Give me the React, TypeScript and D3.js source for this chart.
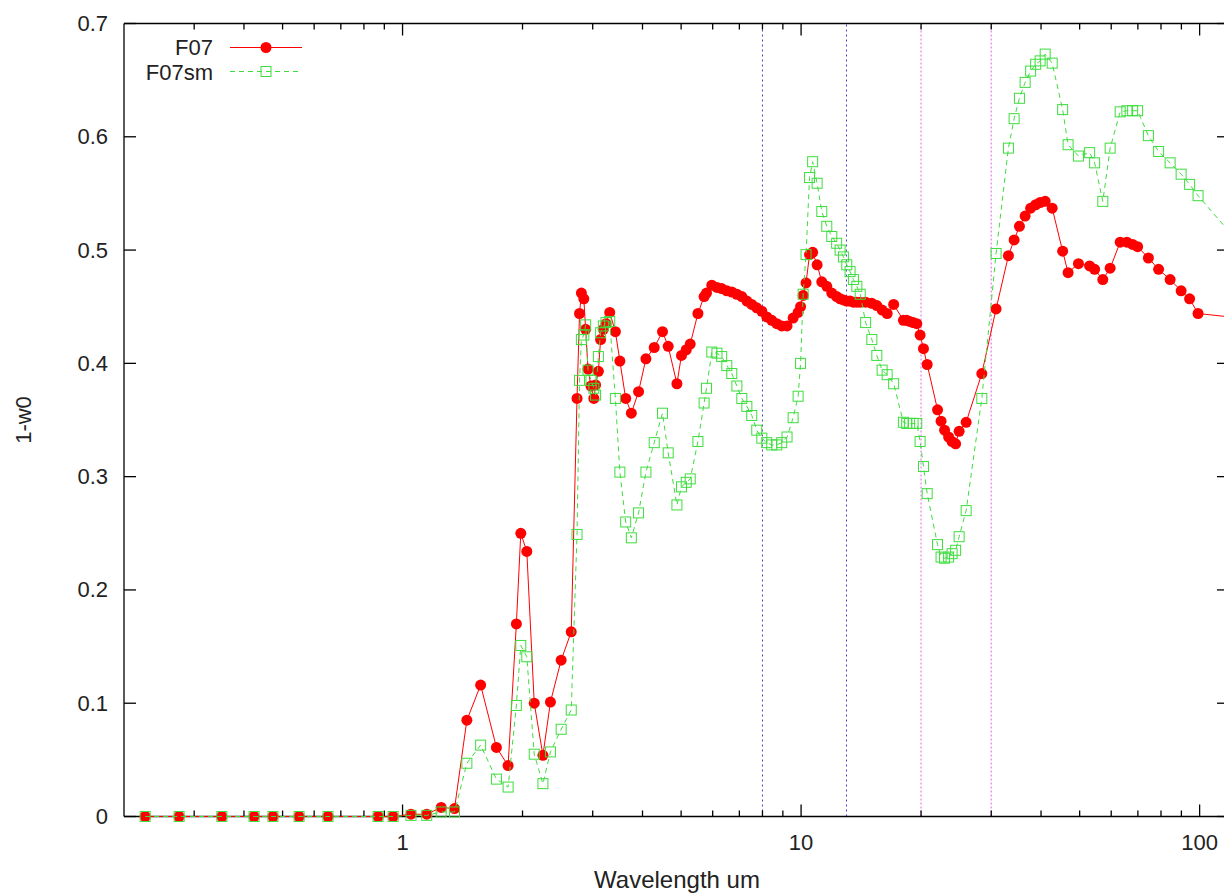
import React from "react";
import * as d3 from "d3";

// Wavelength grid (um), shared by both series
const wavelength = [
  0.226, 0.275, 0.352, 0.424, 0.473, 0.55, 0.65, 0.868, 0.947, 1.05, 1.15, 1.25, 1.35,
  1.45, 1.57, 1.72, 1.84, 1.93, 1.98, 2.05, 2.14, 2.25, 2.35, 2.5, 2.65, 2.74,
  2.78, 2.81, 2.85, 2.88, 2.92, 2.97, 3.02, 3.05, 3.1, 3.14, 3.19, 3.24, 3.31,
  3.42, 3.51, 3.63, 3.75, 3.91, 4.08, 4.28, 4.49, 4.64, 4.88, 5.01, 5.15, 5.27,
  5.51, 5.71, 5.79, 5.97, 6.15, 6.32, 6.51, 6.7, 6.9, 7.1, 7.31, 7.52, 7.74, 7.97,
  8.2, 8.44, 8.69, 8.94, 9.22, 9.55, 9.83, 9.97, 10.12, 10.29, 10.5, 10.69, 10.97,
  11.27, 11.6, 11.94, 12.28, 12.53, 12.77, 13.02, 13.27, 13.53, 13.8, 14.07, 14.52,
  15.05, 15.49, 15.97, 16.44, 17.07, 18.06, 18.4, 18.72, 19.1, 19.51, 19.89, 20.28,
  20.72, 22.0, 22.45, 22.91, 23.45, 23.93, 24.42, 24.92, 25.95, 28.41, 30.85, 33.13,
  34.24, 35.31, 36.49, 37.67, 38.78, 39.79, 40.97, 42.66, 45.32, 46.77, 49.65, 52.97,
  54.52, 57.16, 59.63, 63.19, 65.69, 67.91, 69.89, 74.38, 78.9, 84.33, 89.87, 94.38,
  99.1, 126.4,
];

// Series F07 (1 - w0)
const f07 = [
  0, 0, 0, 0, 0, 0, 0, 0, 0, 0.002, 0.002, 0.008, 0.007,
  0.085, 0.116, 0.061, 0.045, 0.17, 0.25, 0.234, 0.1, 0.054, 0.101, 0.138, 0.163, 0.369,
  0.444, 0.462, 0.457, 0.43, 0.395, 0.38, 0.369, 0.381, 0.393, 0.421, 0.43, 0.435, 0.445,
  0.428, 0.402, 0.369, 0.356, 0.375, 0.404, 0.414, 0.428, 0.415, 0.382, 0.407, 0.412, 0.417,
  0.444, 0.459, 0.462, 0.469, 0.467, 0.466, 0.464, 0.463, 0.461, 0.459, 0.455, 0.452, 0.449, 0.446,
  0.441, 0.438, 0.435, 0.433, 0.433, 0.44, 0.445, 0.45, 0.46, 0.471, 0.496, 0.498, 0.487,
  0.472, 0.468, 0.462, 0.459, 0.457, 0.456, 0.455, 0.455, 0.454, 0.454, 0.454, 0.454,
  0.453, 0.451, 0.447, 0.444, 0.452, 0.438, 0.438, 0.437, 0.436, 0.435, 0.425, 0.413,
  0.399, 0.359, 0.349, 0.341, 0.335, 0.331, 0.329, 0.34, 0.348, 0.391, 0.448, 0.495,
  0.509, 0.521, 0.53, 0.537, 0.54, 0.542, 0.543, 0.537, 0.499, 0.48, 0.488, 0.486,
  0.483, 0.474, 0.484, 0.507, 0.507, 0.505, 0.503, 0.493, 0.483, 0.474, 0.464, 0.457,
  0.444, 0.44,
];

// Series F07sm (1 - w0)
const f07sm = [
  0, 0, 0, 0, 0, 0, 0, 0, 0, 0.001, 0.001, 0.004, 0.004,
  0.047, 0.063, 0.033, 0.026, 0.098, 0.151, 0.141, 0.055, 0.029, 0.057, 0.077, 0.094, 0.249,
  0.385, 0.421, 0.425, 0.434, 0.394, 0.385, 0.378, 0.372, 0.406, 0.427, 0.433, 0.436, 0.437,
  0.369, 0.304, 0.26, 0.246, 0.268, 0.304, 0.33, 0.356, 0.321, 0.275, 0.291, 0.295, 0.298,
  0.331, 0.365, 0.378, 0.41, 0.409, 0.406, 0.398, 0.391, 0.38, 0.369, 0.362, 0.354, 0.341, 0.334,
  0.33, 0.328, 0.328, 0.33, 0.335, 0.352, 0.371, 0.4, 0.461, 0.496, 0.564, 0.578, 0.559,
  0.534, 0.521, 0.512, 0.506, 0.5, 0.494, 0.487, 0.481, 0.474, 0.468, 0.461, 0.436,
  0.421, 0.407, 0.394, 0.39, 0.382, 0.348, 0.347, 0.347, 0.347, 0.347, 0.331, 0.309,
  0.285, 0.24, 0.229, 0.228, 0.229, 0.232, 0.235, 0.247, 0.27, 0.369, 0.497, 0.59,
  0.616, 0.634, 0.648, 0.658, 0.664, 0.667, 0.673, 0.665, 0.624, 0.593, 0.583, 0.586,
  0.577, 0.543, 0.59, 0.622, 0.623, 0.623, 0.623, 0.601, 0.587, 0.577, 0.567, 0.558,
  0.548, 0.505,
];

const xMajorTicks = [1, 10, 100];
const xMinorTicks = [0.3, 0.4, 0.5, 0.6, 0.7, 0.8, 0.9, 2, 3, 4, 5, 6, 7, 8, 9, 20, 30, 40, 50, 60, 70, 80, 90];
const yTicks = [0, 0.1, 0.2, 0.3, 0.4, 0.5, 0.6, 0.7];
const yTickLabels = ["0", "0.1", "0.2", "0.3", "0.4", "0.5", "0.6", "0.7"];
const blueLines = [8, 13];
const magentaLines = [20, 30];
const seriesNames = ["F07", "F07sm"];

const W = 1224;
const H = 893;
const M = { left: 124, right: 1229, top: 23.5, bottom: 816.5 };
const FONT = "'Liberation Sans', Arial, Helvetica, sans-serif";
const FS = 22;

export default function App() {
  const x = d3.scaleLog().domain([0.2, 118.5]).range([M.left, M.right]);
  const y = d3.scaleLinear().domain([0, 0.7]).range([M.bottom, M.top]);
  const redPts = wavelength.map((w, i) => [w, f07[i]] as [number, number]);
  const grnPts = wavelength.map((w, i) => [w, f07sm[i]] as [number, number]);
  const line = d3
    .line<[number, number]>()
    .x((d) => x(d[0]))
    .y((d) => y(d[1]));
  const majorLen = 12;
  const minorLen = 6;
  const sq = 10;
  const red = "#ff0000";
  const green = "#3ddd3d";
  const textColor = "#222";

  return (
    <div style={{ position: "absolute", left: 0, top: 0, width: W, height: H, background: "#fff" }}>
      <svg width={W} height={H} style={{ display: "block" }} fontFamily={FONT}>
        <defs>
          <clipPath id="plotclip">
            <rect x={M.left} y={0} width={M.right - M.left} height={H} />
          </clipPath>
        </defs>
        <rect width={W} height={H} fill="#fff" />

        {/* reference vertical lines */}
        {blueLines.map((v) => (
          <line key={"b" + v} x1={x(v)} x2={x(v)} y1={M.bottom} y2={M.top} stroke="#4545c0" strokeWidth={1} strokeDasharray="2,3" />
        ))}
        {magentaLines.map((v) => (
          <line key={"m" + v} x1={x(v)} x2={x(v)} y1={M.bottom} y2={M.top} stroke="#ea88ea" strokeWidth={1.3} strokeDasharray="2,2" />
        ))}

        {/* border */}
        <g stroke="#000" strokeWidth={1.3} fill="none">
          <line x1={M.left} x2={M.right} y1={M.bottom} y2={M.bottom} />
          <line x1={M.left} x2={M.right} y1={M.top} y2={M.top} />
          <line x1={M.left} x2={M.left} y1={M.top} y2={M.bottom} />
          <line x1={M.right} x2={M.right} y1={M.top} y2={M.bottom} />
          {xMajorTicks.map((t) => (
            <g key={"xm" + t}>
              <line x1={x(t)} x2={x(t)} y1={M.bottom} y2={M.bottom - majorLen} />
              <line x1={x(t)} x2={x(t)} y1={M.top} y2={M.top + majorLen} />
            </g>
          ))}
          {xMinorTicks.map((t) => (
            <g key={"xn" + t}>
              <line x1={x(t)} x2={x(t)} y1={M.bottom} y2={M.bottom - minorLen} />
              <line x1={x(t)} x2={x(t)} y1={M.top} y2={M.top + minorLen} />
            </g>
          ))}
          {yTicks.map((t) => (
            <g key={"y" + t}>
              <line x1={M.left} x2={M.left + majorLen} y1={y(t)} y2={y(t)} />
              <line x1={M.right} x2={M.right - majorLen} y1={y(t)} y2={y(t)} />
            </g>
          ))}
        </g>

        {/* tick labels */}
        <g fill={textColor} fontSize={FS}>
          {yTicks.map((t, i) => (
            <text key={"yl" + t} x={108} y={y(t)} textAnchor="end" dominantBaseline="central">
              {yTickLabels[i]}
            </text>
          ))}
          {xMajorTicks.map((t) => (
            <text key={"xl" + t} x={x(t)} y={850} textAnchor="middle">
              {String(t)}
            </text>
          ))}
          <text x={677} y={888} textAnchor="middle" fontSize={24}>
            Wavelength um
          </text>
          <text transform={`translate(23, ${(M.top + M.bottom) / 2}) rotate(-90)`} textAnchor="middle" dominantBaseline="central">
            1-w0
          </text>
        </g>

        {/* data */}
        <g clipPath="url(#plotclip)">
          <path d={line(redPts) || ""} fill="none" stroke={red} strokeWidth={1} />
          {redPts.map((p, i) => (
            <circle key={"r" + i} cx={x(p[0])} cy={y(p[1])} r={5.5} fill={red} />
          ))}
          <path d={line(grnPts) || ""} fill="none" stroke={green} strokeWidth={1} strokeDasharray="5,4" />
          {grnPts.map((p, i) => (
            <rect key={"g" + i} x={x(p[0]) - sq / 2} y={y(p[1]) - sq / 2} width={sq} height={sq} fill="none" stroke={green} strokeWidth={1} />
          ))}
        </g>

        {/* legend */}
        <g fontSize={FS} fill={textColor}>
          <text x={213} y={47} textAnchor="end" dominantBaseline="central">{seriesNames[0]}</text>
          <line x1={230} x2={302} y1={47.5} y2={47.5} stroke={red} strokeWidth={1} />
          <circle cx={266} cy={47.5} r={5.5} fill={red} />
          <text x={213} y={72} textAnchor="end" dominantBaseline="central">{seriesNames[1]}</text>
          <line x1={230} x2={302} y1={71.5} y2={71.5} stroke={green} strokeWidth={1} strokeDasharray="5,4" />
          <rect x={266 - sq / 2} y={71.5 - sq / 2} width={sq} height={sq} fill="none" stroke={green} strokeWidth={1} />
        </g>
      </svg>
    </div>
  );
}
